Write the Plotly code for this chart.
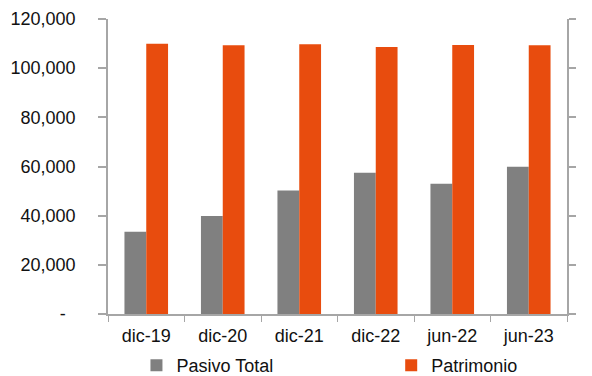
import plotly.graph_objects as go

categories = ["dic-19", "dic-20", "dic-21", "dic-22", "jun-22", "jun-23"]
pasivo_total = [33500, 39900, 50200, 57500, 53000, 59900]
patrimonio = [109900, 109300, 109700, 108600, 109400, 109300]

left_tickvals = [0, 20000, 40000, 60000, 80000, 100000, 120000]
left_ticktext = ["-\u00a0\u00a0", "20,000", "40,000", "60,000", "80,000", "100,000", "120,000"]
right_tickvals = [0, 0.2, 0.4, 0.6, 0.8, 1.0, 1.2]
right_ticktext = ["-", "0.2", "0.4", "0.6", "0.8", "1.0", "1.2"]

FONT = "Liberation Sans, Arial, sans-serif"
GRAY = "#808080"
ORANGE = "#E84C0E"
AXIS = "#A6A6A6"

fig = go.Figure()
fig.add_trace(go.Bar(name="Pasivo Total", x=categories, y=pasivo_total,
                     marker=dict(color=GRAY, line=dict(width=0)), legend="legend"))
fig.add_trace(go.Bar(name="Patrimonio", x=categories, y=patrimonio,
                     marker=dict(color=ORANGE, line=dict(width=0)), legend="legend2"))
fig.add_trace(go.Scatter(x=categories, y=[None] * len(categories), yaxis="y2",
                         showlegend=False, hoverinfo="skip", mode="lines"))

legend_common = dict(orientation="h", xanchor="left", y=-0.112, yanchor="top",
                     font=dict(size=18), itemwidth=30, bgcolor="rgba(0,0,0,0)")

fig.update_layout(
    width=592, height=376,
    margin=dict(l=108, r=25, t=19, b=62, autoexpand=False),
    paper_bgcolor="white", plot_bgcolor="white",
    font=dict(family=FONT, size=18, color="#111111"),
    barmode="group", bargap=0.43, bargroupgap=0,
    showlegend=True,
    legend=dict(x=0.062, **legend_common),
    legend2=dict(x=0.617, **legend_common),
    xaxis=dict(showline=True, linecolor=AXIS, linewidth=1.5,
               ticks="outside", tickson="boundaries", ticklen=6, tickcolor=AXIS,
               ticklabelstandoff=5,
               showgrid=False, zeroline=False, automargin=False),
    yaxis=dict(range=[0, 120000], tickvals=left_tickvals, ticktext=left_ticktext,
               showline=True, linecolor=AXIS, linewidth=1.5,
               ticks="outside", ticklen=8, tickcolor=AXIS, tickwidth=1.5,
               ticklabelstandoff=19, automargin=False,
               showgrid=False, zeroline=False),
    yaxis2=dict(range=[0, 1.2], tickvals=right_tickvals, ticktext=right_ticktext,
                overlaying="y", side="right", automargin=False,
                showline=True, linecolor=AXIS, linewidth=1.5,
                ticks="outside", ticklen=7, tickcolor=AXIS, tickwidth=1.5,
                ticklabelstandoff=16,
                showgrid=False, zeroline=False),
)

fig.write_html("out.html", config={"displayModeBar": False},
               post_script="document.body.style.margin='0';document.body.style.overflow='hidden';")
